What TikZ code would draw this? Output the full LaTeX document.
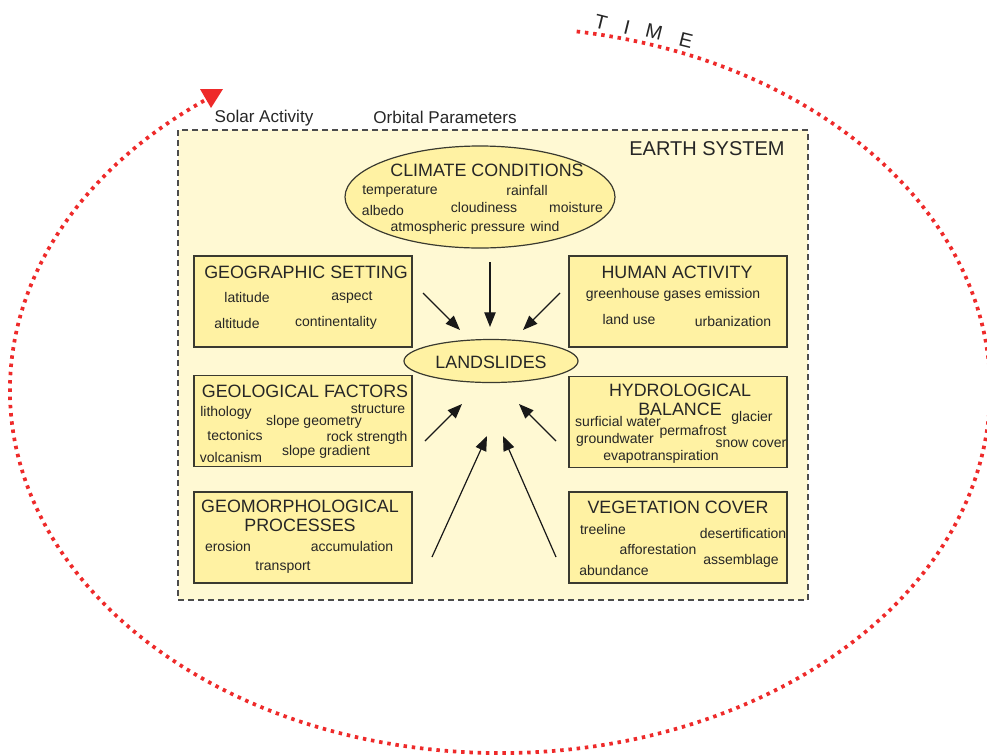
\documentclass[tikz,border=0pt]{standalone}
\usepackage{fontspec}
\setmainfont{Liberation Sans}
\usepackage{tikz}
\usetikzlibrary{shapes.geometric}
\usetikzlibrary{arrows.meta}
\usepackage{xcolor}

\definecolor{earthfill}{HTML}{FFF9D3}
\definecolor{boxfill}{HTML}{FFF2A3}
\definecolor{boxline}{HTML}{3A3A30}
\definecolor{timered}{HTML}{EE2A2A}

\tikzset{
  earthbox/.style={draw=black!70, dash pattern=on 4.5pt off 3pt, line width=0.9pt, fill=earthfill, minimum width=472.5pt, minimum height=352.5pt, inner sep=0pt},
  factorbox/.style={draw=boxline, line width=1.1pt, fill=boxfill, minimum width=163.5pt, minimum height=68.5pt, inner sep=0pt},
  factorellipse/.style={ellipse, draw=boxline, line width=0.9pt, fill=boxfill, inner sep=0pt},
  header/.style={font=\fontsize{13.4}{14}\selectfont, text=black!85, inner sep=0pt},
  item/.style={font=\fontsize{10.5}{12}\selectfont, text=black!85, inner sep=0pt},
  outer/.style={font=\fontsize{12.8}{14}\selectfont, text=black!85, inner sep=0pt},
  timeletter/.style={font=\fontsize{15}{16}\selectfont, text=black!85, inner sep=0pt, rotate=-14},
  timeline/.style={draw=timered, line width=2.8pt, dash pattern=on 2.6pt off 3.6pt},
  influence/.style={draw=black!90, line width=0.9pt, -{Triangle[length=11pt,width=8.5pt]}}
}

\begin{document}
\begin{tikzpicture}[x=0.75pt, y=-0.75pt]
  \useasboundingbox (0,0) rectangle (987,754);
  \clip (0,0) rectangle (987,754);

  \draw[timeline] ({500+490*cos(-81)},{390+363*sin(-81)}) arc[start angle=-81, end angle=234, x radius=490, y radius=363];
  \fill[timered] (200,89) -- (223,89) -- (211,108) -- cycle;
  \node[timeletter] (timeT) at (601,22) {T};
  \node[timeletter] (timeI) at (627,27) {I};
  \node[timeletter] (timeM) at (654,32) {M};
  \node[timeletter] (timeE) at (686,40) {E};

  \node[outer] (solar) at (264,118) {Solar Activity};
  \node[outer] (orbital) at (445,117) {Orbital Parameters};

  \node[earthbox] (earth) at (493,365) {};
  \node[font=\fontsize{15}{16}\selectfont, text=black!85, inner sep=0pt] (earthlabel) at (707,149) {EARTH SYSTEM};

  \node[factorellipse, minimum width=202.5pt, minimum height=76.5pt] (climate) at (480,197) {};
  \node[header] (climatehead) at (487,170) {CLIMATE CONDITIONS};
  \node[item] (temperature) at (400,191) {temperature};
  \node[item] (rainfall) at (527,190) {rainfall};
  \node[item] (albedo) at (383,210) {albedo};
  \node[item] (cloudiness) at (484,207) {cloudiness};
  \node[item] (moisture) at (576,207) {moisture};
  \node[item] (pressure) at (458,228) {atmospheric pressure};
  \node[item] (wind) at (545,226) {wind};

  \node[factorellipse, minimum width=130.5pt, minimum height=32.25pt] (landslides) at (491,361) {};
  \node[header] (landslideshead) at (491,362) {LANDSLIDES};

  \node[factorbox] (geogr) at (303,301.5) {};
  \node[header] (geogrhead) at (306,272) {GEOGRAPHIC SETTING};
  \node[item] (latitude) at (247,297) {latitude};
  \node[item] (aspect) at (352,297) {aspect};
  \node[item] (altitude) at (237,323) {altitude};
  \node[item] (continentality) at (336,323) {continentality};

  \node[factorbox] (human) at (678,301.5) {};
  \node[header] (humanhead) at (677,272) {HUMAN ACTIVITY};
  \node[item] (greenhouse) at (673,295) {greenhouse gases emission};
  \node[item] (landuse) at (629,319) {land use};
  \node[item] (urbanization) at (733,321) {urbanization};

  \node[factorbox] (geolog) at (303,421) {};
  \node[header] (geologhead) at (305,391) {GEOLOGICAL FACTORS};
  \node[item] (lithology) at (226,413) {lithology};
  \node[item] (structure) at (378,409) {structure};
  \node[item] (slopegeom) at (314,422) {slope geometry};
  \node[item] (tectonics) at (235,435) {tectonics};
  \node[item] (rockstrength) at (367,438) {rock strength};
  \node[item] (volcanism) at (231,457) {volcanism};
  \node[item] (slopegrad) at (326,452) {slope gradient};

  \node[factorbox] (hydro) at (678,422) {};
  \node[header] (hydrohead) at (680,390) {HYDROLOGICAL};
  \node[header] (hydrohead2) at (680,409) {BALANCE};
  \node[item] (surficial) at (618,421) {surficial water};
  \node[item] (glacier) at (752,418) {glacier};
  \node[item] (permafrost) at (693,432) {permafrost};
  \node[item] (groundwater) at (615,440) {groundwater};
  \node[item] (snowcover) at (751,444) {snow cover};
  \node[item] (evapo) at (661,457) {evapotranspiration};

  \node[factorbox] (geomorph) at (303,537.5) {};
  \node[header] (geomorphhead) at (300,506) {GEOMORPHOLOGICAL};
  \node[header] (geomorphhead2) at (300,525) {PROCESSES};
  \node[item] (erosion) at (228,546) {erosion};
  \node[item] (accumulation) at (352,546) {accumulation};
  \node[item] (transport) at (283,567) {transport};

  \node[factorbox] (veget) at (678,537.5) {};
  \node[header] (vegethead) at (678,507) {VEGETATION COVER};
  \node[item] (treeline) at (603,529) {treeline};
  \node[item] (desert) at (743,533) {desertification};
  \node[item] (afforest) at (658,549) {afforestation};
  \node[item] (assemblage) at (741,561) {assemblage};
  \node[item] (abundance) at (614,570) {abundance};

  \coordinate (fromgeogr) at (423,293);
  \coordinate (togeogr) at (460,330);
  \coordinate (fromclimate) at (490,262);
  \coordinate (toclimate) at (490,327);
  \coordinate (fromhuman) at (560,293);
  \coordinate (tohuman) at (523,330);
  \coordinate (fromgeolog) at (425,441);
  \coordinate (togeolog) at (462,404);
  \coordinate (fromhydro) at (556,441);
  \coordinate (tohydro) at (519,404);
  \coordinate (fromgeomorph) at (432,557);
  \coordinate (togeomorph) at (487,436);
  \coordinate (fromveget) at (556,557);
  \coordinate (toveget) at (503,436);

  \draw[influence] (fromgeogr) -- (togeogr);
  \draw[influence] (fromclimate) -- (toclimate);
  \draw[influence] (fromhuman) -- (tohuman);
  \draw[influence] (fromgeolog) -- (togeolog);
  \draw[influence] (fromhydro) -- (tohydro);
  \draw[influence] (fromgeomorph) -- (togeomorph);
  \draw[influence] (fromveget) -- (toveget);
\end{tikzpicture}
\end{document}
